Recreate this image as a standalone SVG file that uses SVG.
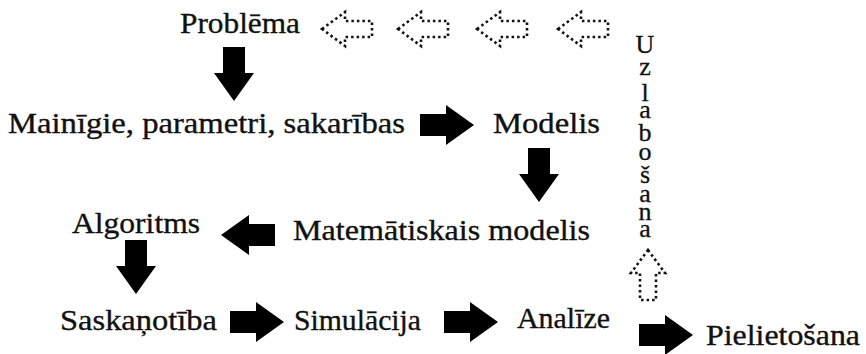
<svg xmlns="http://www.w3.org/2000/svg" xmlns:xlink="http://www.w3.org/1999/xlink" width="866" height="354" viewBox="0 0 866 354">
<style>
.t{font-family:'Liberation Serif',serif;font-size:29px;fill:#111;stroke:#111;stroke-width:0.35;}
.v{font-family:'Liberation Serif',serif;font-size:26px;fill:#111;stroke:#111;stroke-width:0.3;text-anchor:middle;}
.solid{fill:#000;}
.dot{fill:none;stroke:#111;stroke-width:2.6;stroke-dasharray:2.5 3;}
</style>
<defs>
<path id="ra" d="M0,-11 H26 V-20 L54,0 L26,20 V11 H0 Z"/>
<path id="la" d="M0,0 L23,-17 V-8 H50 V8 H23 V17 Z"/>
</defs>
<rect width="866" height="354" fill="#fff"/>
<g id="connectors">
<use xlink:href="#ra" class="solid" transform="translate(234,47) rotate(90)"/>
<use xlink:href="#ra" class="solid" transform="translate(420,125)"/>
<use xlink:href="#ra" class="solid" transform="translate(539,148) rotate(90)"/>
<use xlink:href="#ra" class="solid" transform="translate(275,235) rotate(180)"/>
<use xlink:href="#ra" class="solid" transform="translate(136,240) rotate(90)"/>
<use xlink:href="#ra" class="solid" transform="translate(230,322)"/>
<use xlink:href="#ra" class="solid" transform="translate(444,322)"/>
<use xlink:href="#ra" class="solid" transform="translate(639,335)"/>
<use xlink:href="#la" class="dot" transform="translate(322,29)"/>
<use xlink:href="#la" class="dot" transform="translate(398,29)"/>
<use xlink:href="#la" class="dot" transform="translate(477,29)"/>
<use xlink:href="#la" class="dot" transform="translate(558,29)"/>
<use xlink:href="#la" class="dot" transform="translate(648,250) rotate(90)"/>
</g>
<g id="problema"><text class="t" x="180" y="33" textLength="120" lengthAdjust="spacingAndGlyphs">Problēma</text></g>
<g id="mainigie"><text class="t" x="8" y="133" textLength="397" lengthAdjust="spacingAndGlyphs">Mainīgie, parametri, sakarības</text></g>
<g id="modelis"><text class="t" x="493" y="133" textLength="107" lengthAdjust="spacingAndGlyphs">Modelis</text></g>
<g id="algoritms"><text class="t" x="72" y="233" textLength="128" lengthAdjust="spacingAndGlyphs">Algoritms</text></g>
<g id="matematiskais"><text class="t" x="293" y="240" textLength="297" lengthAdjust="spacingAndGlyphs">Matemātiskais modelis</text></g>
<g id="saskanotiba"><text class="t" x="60" y="330" textLength="157" lengthAdjust="spacingAndGlyphs">Saskaņotība</text></g>
<g id="simulacija"><text class="t" x="294" y="330" textLength="127" lengthAdjust="spacingAndGlyphs">Simulācija</text></g>
<g id="analize"><text class="t" x="517" y="328" textLength="93" lengthAdjust="spacingAndGlyphs">Analīze</text></g>
<g id="pielietosana"><text class="t" x="706" y="345" textLength="154" lengthAdjust="spacingAndGlyphs">Pielietošana</text></g>
<g id="uzlabosana"><text class="v"><tspan x="645" y="53">U</tspan><tspan x="645" y="75">z</tspan><tspan x="645" y="101">l</tspan><tspan x="645" y="118">a</tspan><tspan x="645" y="141">b</tspan><tspan x="645" y="160">o</tspan><tspan x="645" y="183">š</tspan><tspan x="645" y="202">a</tspan><tspan x="645" y="220">n</tspan><tspan x="645" y="237">a</tspan></text></g>
</svg>
